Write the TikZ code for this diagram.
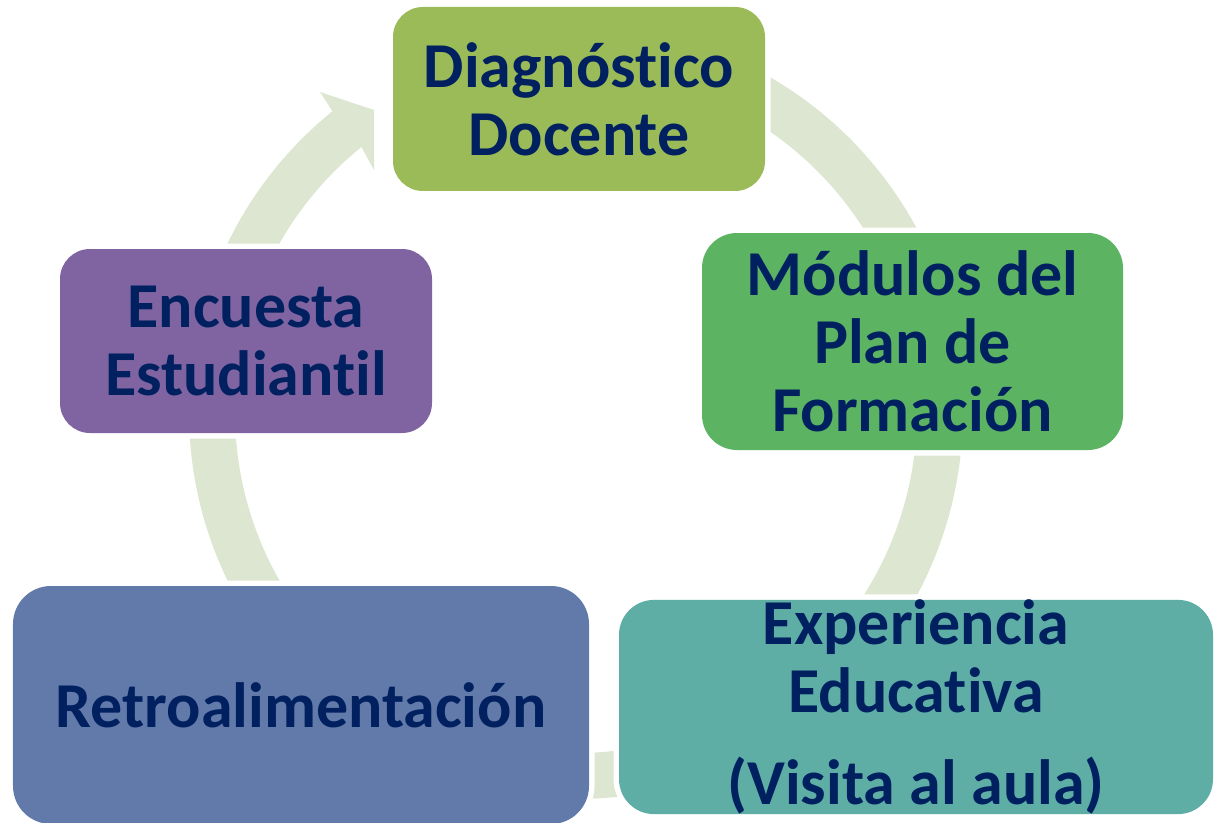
\documentclass[tikz,border=0pt]{standalone}
\usepackage{fontspec}
\setmainfont{Carlito}[Ligatures=NoCommon]
\usepackage{tikz}
\usetikzlibrary{calc}
\definecolor{diagGreen}{HTML}{9BBB59}
\definecolor{modGreen}{HTML}{5CB463}
\definecolor{expTeal}{HTML}{5FAEA6}
\definecolor{retroBlue}{HTML}{617AAA}
\definecolor{encPurple}{HTML}{8064A2}
\definecolor{ringGreen}{HTML}{DDE6D1}
\definecolor{txtNavy}{HTML}{002060}

\begin{document}
\begin{tikzpicture}[
  stage/.style={rounded corners=0.3cm, inner sep=0pt, align=center, text=txtNavy,
    font=\fontsize{18.2}{19.3}\selectfont\bfseries,
    preaction={draw=white, line width=0.11cm}},
  ring/.style={draw=ringGreen, line width=0.46cm}
]
\useasboundingbox (0,0) rectangle (12.15,8.22);
\coordinate (hub) at (5.76,4.10);
% circular arrow behind the boxes
\draw[ring] ($(hub)+(128:3.64)$) arc[start angle=128, end angle=450, radius=3.64cm];
\fill[ringGreen] ($(hub)+(129:3.87)$) -- (3.20,7.30) -- (3.74,7.12) -- (3.74,6.52) -- ($(hub)+(129:3.41)$) -- cycle;

\node[stage, fill=diagGreen, minimum width=3.72cm, minimum height=1.84cm] (diag) at (5.79,7.23) {Diagnóstico\\Docente};
\node[stage, fill=modGreen, rounded corners=0.35cm, minimum width=4.21cm, minimum height=2.17cm] (modulos) at (9.125,4.805) {Módulos del\\Plan de\\Formación};
\node[stage, fill=expTeal, rounded corners=0.35cm, minimum width=5.94cm, minimum height=2.14cm] (experiencia) at (9.16,1.15) {Experiencia\\Educativa\\[0.24cm](Visita al aula)};
\node[stage, fill=retroBlue, rounded corners=0.38cm, minimum width=5.76cm, minimum height=2.38cm] (retro) at (3.01,1.17) {Retroalimentación};
\node[stage, fill=encPurple, minimum width=3.72cm, minimum height=1.84cm] (encuesta) at (2.46,4.81) {Encuesta\\Estudiantil};
\end{tikzpicture}
\end{document}
